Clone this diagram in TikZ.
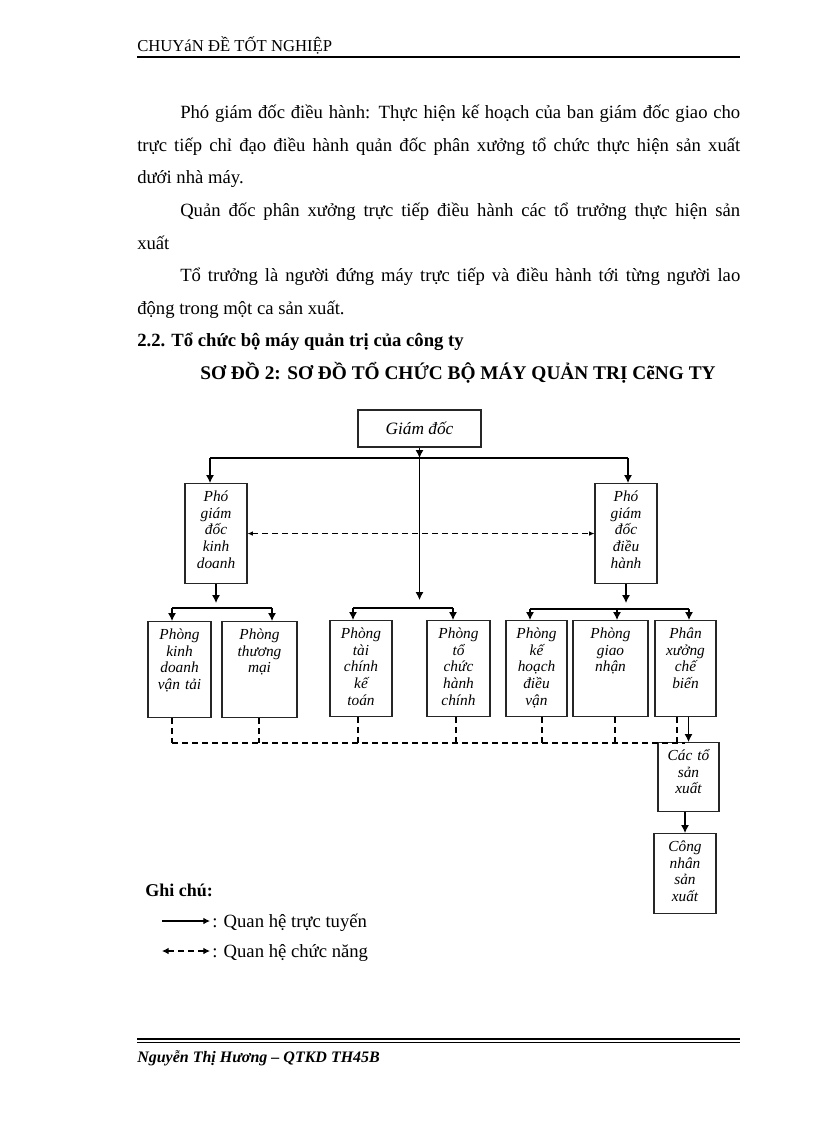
\documentclass[tikz,border=0pt]{standalone}
\usepackage{fontspec}
\setmainfont{Liberation Serif}
\usetikzlibrary{arrows.meta,calc}

\tikzset{
  unit/.style={draw=black!85, line width=0.8pt, anchor=north, align=center,
    inner xsep=2pt, inner ysep=3pt, text height=10.5pt,
    font=\fontsize{11.5}{12.5}\selectfont\itshape},
  link/.style={line width=0.8pt, -{Latex[length=6pt,width=6pt]}},
  func/.style={line width=0.8pt, dash pattern=on 4.5pt off 3pt},
  body/.style={anchor=base west, inner sep=0pt, font=\fontsize{14}{16}\selectfont},
}

\begin{document}
\begin{tikzpicture}[x=0.75pt, y=-0.75pt]
\useasboundingbox (0,0) rectangle (816,1123);

% page head
\node[body, font=\fontsize{12.5}{15}\selectfont] (head) at (137,52) {CHUYáN ĐỀ TỐT NGHIỆP};
\draw[line width=0.9pt] (137,57) -- (740,57);

% text above the chart
\node[body] (p1) at (180,119) {\makebox[420pt][s]{Phó giám đốc điều hành: Thực hiện kế hoạch của ban giám đốc giao cho}};
\node[body] (p2) at (137,151.5) {\makebox[452.25pt][s]{trực tiếp chỉ đạo điều hành quản đốc phân xưởng tổ chức thực hiện sản xuất}};
\node[body] (p3) at (137,184) {dưới nhà máy.};
\node[body] (p4) at (180,216.5) {\makebox[420pt][s]{Quản đốc phân xưởng trực tiếp điều hành các tổ trưởng thực hiện sản}};
\node[body] (p5) at (137,249) {xuất};
\node[body] (p6) at (180,281.5) {\makebox[420pt][s]{Tổ trưởng là người đứng máy trực tiếp và điều hành tới từng người lao}};
\node[body] (p7) at (137,314) {động trong một ca sản xuất.};
\node[body, font=\fontsize{14}{16}\selectfont\bfseries] (sec) at (137,346.5) {2.2. Tổ chức bộ máy quản trị của công ty};
\node[body, anchor=base, font=\fontsize{14.5}{16}\selectfont\bfseries] (title) at (458,379) {SƠ ĐỒ 2: SƠ ĐỒ TỔ CHỨC BỘ MÁY QUẢN TRỊ CẽNG TY};

% boxes
\node[draw=black!85, line width=0.8pt, minimum width=92.25pt, minimum height=27.75pt,
  font=\fontsize{13}{15}\selectfont\itshape] (gd) at (419.5,428.5) {Giám đốc};
\node[unit, text width=42.5pt, text depth=58.5pt] (pkd) at (216,483) {Phó\\giám\\đốc\\kinh\\doanh};
\node[unit, text width=42.5pt, text depth=58.5pt] (pdh) at (626,483) {Phó\\giám\\đốc\\điều\\hành};

\node[unit, text width=43.25pt, text depth=55.5pt] (b1) at (179.5,621) {Phòng\\kinh\\doanh\\vận tải};
\node[unit, text width=52.25pt, text depth=55.5pt] (b2) at (259.5,621) {Phòng\\thương\\mại};
\node[unit, text width=42.5pt, text depth=55.5pt] (b3) at (361,620) {Phòng\\tài\\chính\\kế\\toán};
\node[unit, text width=43.25pt, text depth=55.5pt] (b4) at (458.5,620) {Phòng\\tổ\\chức\\hành\\chính};
\node[unit, text width=41.75pt, text depth=55.5pt] (b5) at (536.5,620) {Phòng\\kế\\hoạch\\điều\\vận};
\node[unit, text width=52.25pt, text depth=55.5pt] (b6) at (610.5,620) {Phòng\\giao\\nhận};
\node[unit, text width=41.75pt, text depth=55.5pt] (b7) at (685.5,620) {Phân\\xưởng\\chế\\biến};
\node[unit, text width=41.75pt, text depth=35.25pt] (ct) at (688.5,742) {Các tổ\\sản\\xuất};
\node[unit, text width=42.5pt, text depth=43.5pt] (cn) at (685,833) {Công\\nhân\\sản\\xuất};

% solid lines
\coordinate (tl) at (210,458);
\coordinate (tr) at (628,458);
\draw[line width=0.8pt] (tl) -- (tr);
\draw[link] (gd.south) -- (gd.south |- tl);
\draw[link] (tl) -- (tl |- pkd.north);
\draw[link] (tr) -- (tr |- pdh.north);
\draw[link] (gd.south |- tl) -- (419.5,600);

\coordinate (l1) at (172,608);
\coordinate (l2) at (272,608);
\draw[link] (pkd.south) -- ($(pkd.south |- l1)+(0,-5)$);
\draw[line width=0.8pt] (l1) -- (l2);
\draw[link] (l1) -- (l1 |- b1.north);
\draw[link] (l2) -- (l2 |- b2.north);

\coordinate (c1) at (353,608);
\coordinate (c2) at (453,608);
\draw[line width=0.8pt] (c1) -- (c2);
\draw[link] (c1) -- (c1 |- b3.north);
\draw[link] (c2) -- (c2 |- b4.north);

\coordinate (r1) at (530,609);
\coordinate (r2) at (617,609);
\coordinate (r3) at (689,609);
\draw[link] (pdh.south) -- ($(pdh.south |- r1)+(0,-6)$);
\draw[line width=0.8pt] (r1) -- (r3);
\draw[link] (r1) -- (r1 |- b5.north);
\draw[link] (r2) -- (r2 |- b6.north);
\draw[link] (r3) -- (r3 |- b7.north);

\draw[link] (ct.north |- b7.south) -- (ct.north);
\draw[link] (cn.north |- ct.south) -- (cn.north);

% dashed lines
\draw[func, {Latex[length=4pt,width=3.5pt]}-{Latex[length=4pt,width=3.5pt]}] (pkd.east) -- (pdh.west);
\coordinate (d1) at (172,743);
\coordinate (d2) at (259,743);
\coordinate (d3) at (358,743);
\coordinate (d4) at (456,743);
\coordinate (d5) at (542,743);
\coordinate (d6) at (615,743);
\coordinate (d7) at (677,743);
\coordinate (dend) at (685,743);
\draw[func] (d1 |- b1.south) -- (d1);
\draw[func] (d2 |- b2.south) -- (d2);
\draw[func] (d3 |- b3.south) -- (d3);
\draw[func] (d4 |- b4.south) -- (d4);
\draw[func] (d5 |- b5.south) -- (d5);
\draw[func] (d6 |- b6.south) -- (d6);
\draw[func] (d7 |- b7.south) -- (d7);
\draw[func] (d1) -- (dend);

% legend
\node[body, font=\fontsize{13.5}{15}\selectfont\bfseries] (note) at (145,896) {Ghi chú:};
\coordinate (ka) at (162,921);
\coordinate (kb) at (210,921);
\coordinate (kc) at (162,951);
\coordinate (kd) at (210,951);
\draw[line width=0.8pt, -{Latex[length=5pt,width=5pt]}] (ka) -- (kb);
\draw[func, {Latex[length=5pt,width=5pt]}-{Latex[length=5pt,width=5pt]}] (kc) -- (kd);
\node[body] (k1) at (212,927) {: Quan hệ trực tuyến};
\node[body] (k2) at (212,957) {: Quan hệ chức năng};

% page foot
\draw[line width=1.2pt] (137,1039) -- (740,1039);
\draw[line width=0.9pt] (137,1042.5) -- (740,1042.5);
\node[body, font=\fontsize{12}{14}\selectfont\bfseries\itshape] (foot) at (137,1062) {Nguyễn Thị Hương – QTKD TH45B};
\end{tikzpicture}
\end{document}
